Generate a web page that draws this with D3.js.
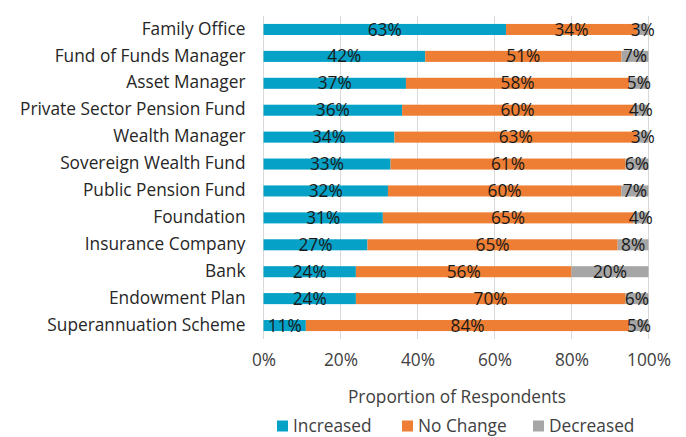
<!DOCTYPE html>
<html lang="en">
<head>
<meta charset="utf-8">
<title>Proportion of Respondents</title>
<script src="https://d3js.org/d3.v7.min.js"></script>
<style>
  body { margin: 0; background: #fff; }
  text { font-family: "Open Sans", "Noto Sans", sans-serif; }
</style>
</head>
<body>
<svg width="686" height="437" id="mainsvg"></svg>
<script>
const categories = [
  'Family Office', 'Fund of Funds Manager', 'Asset Manager', 'Private Sector Pension Fund',
  'Wealth Manager', 'Sovereign Wealth Fund', 'Public Pension Fund', 'Foundation',
  'Insurance Company', 'Bank', 'Endowment Plan', 'Superannuation Scheme'
];
const increased = [63, 42, 37, 36, 34, 33, 32, 31, 27, 24, 24, 11];
const noChange  = [34, 51, 58, 60, 63, 61, 60, 65, 65, 56, 70, 84];
const decreased = [3, 7, 5, 4, 3, 6, 7, 4, 8, 20, 6, 5];
const seriesNames = ['Increased', 'No Change', 'Decreased'];
const xTicks = [0, 0.2, 0.4, 0.6, 0.8, 1];

const colors = ['#05a1c7', '#ee7e33', '#a6a6a6'];
const fs = '17.3px';

const svg = d3.select('#mainsvg');
const margin = { top: 16, left: 263.5 };
const innerWidth = 648.5 - margin.left;
const innerHeight = 339 - margin.top;

const g = svg.append('g').attr('transform', `translate(${margin.left},${margin.top})`);

const xScale = d3.scaleLinear().domain([0, 1]).range([0, innerWidth]);
const yScale = d3.scaleBand().domain(categories).range([0, innerHeight]).paddingInner(0.59).paddingOuter(0.295);

// gridlines
g.selectAll('.grid').data(xTicks).join('line')
  .attr('class', 'grid')
  .attr('x1', d => xScale(d)).attr('x2', d => xScale(d))
  .attr('y1', 0).attr('y2', innerHeight)
  .attr('stroke', '#d9d9d9').attr('stroke-width', 1);

// rows, stacked as shares of 100% (percentages are rounded)
const rows = categories.map((c, i) => ({ cat: c, Increased: increased[i], 'No Change': noChange[i], Decreased: decreased[i] }));
const stacked = d3.stack().keys(seriesNames).offset(d3.stackOffsetExpand)(rows);

const layers = g.selectAll('.layer').data(stacked).join('g')
  .attr('class', 'layer')
  .attr('fill', (d, i) => colors[i]);

layers.selectAll('rect').data(d => d.map(p => Object.assign(p, { key: d.key }))).join('rect')
  .attr('x', d => xScale(d[0]))
  .attr('y', d => yScale(d.data.cat))
  .attr('width', d => xScale(d[1]) - xScale(d[0]))
  .attr('height', yScale.bandwidth());

layers.selectAll('.lbl').data(d => d).join('text')
  .attr('class', 'lbl')
  .attr('x', d => xScale((d[0] + d[1]) / 2))
  .attr('y', d => yScale(d.data.cat) + yScale.bandwidth() / 2)
  .attr('dy', '0.35em')
  .attr('text-anchor', 'middle')
  .attr('font-size', fs)
  .attr('fill', '#1a1a1a')
  .text(d => d.data[d.key] + '%');

// category labels
g.selectAll('.cat').data(categories).join('text')
  .attr('class', 'cat')
  .attr('x', -18)
  .attr('y', d => yScale(d) + yScale.bandwidth() / 2)
  .attr('dy', '0.3em')
  .attr('text-anchor', 'end')
  .attr('font-size', fs)
  .attr('fill', '#262626')
  .text(d => d);

// x tick labels
const xAxis = d3.axisBottom(xScale).tickValues(xTicks).tickSize(0).tickPadding(0).tickFormat(d3.format('.0%'));
const xAxisGroup = g.append('g').attr('transform', `translate(0,${innerHeight})`).call(xAxis);
xAxisGroup.select('.domain').remove();
xAxisGroup.selectAll('text')
  .attr('y', 21).attr('dy', '0.36em')
  .attr('font-size', fs)
  .attr('fill', '#404040')
  .attr('font-family', '"Open Sans", sans-serif');

// axis title
svg.append('text')
  .attr('x', 457).attr('y', 397)
  .attr('dy', '0.36em')
  .attr('text-anchor', 'middle')
  .attr('font-size', fs)
  .attr('fill', '#404040')
  .text('Proportion of Respondents');

// legend
const legendX = [277, 402, 533];
const legend = svg.selectAll('.legend').data(seriesNames).join('g')
  .attr('class', 'legend')
  .attr('transform', (d, i) => `translate(${legendX[i]},426)`);
legend.append('rect')
  .attr('x', 0).attr('y', -5.5).attr('width', 11).attr('height', 11)
  .attr('fill', (d, i) => colors[i]);
legend.append('text')
  .attr('x', 16).attr('y', 0).attr('dy', '0.36em')
  .attr('font-size', fs)
  .attr('fill', '#404040')
  .text(d => d);
</script>
</body>
</html>
